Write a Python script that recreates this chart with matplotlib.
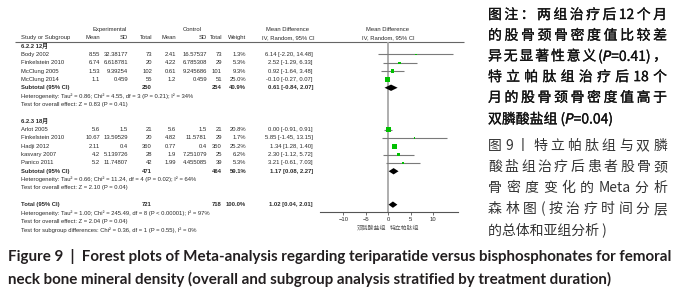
import matplotlib
matplotlib.use('Agg')
import matplotlib.pyplot as plt
import matplotlib.patheffects as pe
import numpy as np

# ---- data ----
studies_12 = ['Body 2002', 'Finkelstein 2010', 'McClung 2005', 'McClung 2014']
exp_mean_12 = [8.55, 6.74, 1.53, 1.1]
exp_sd_12 = [32.38177, 6.618781, 9.39254, 0.459]
exp_n_12 = [73, 20, 102, 55]
ctl_mean_12 = [2.41, 4.22, 0.61, 1.2]
ctl_sd_12 = [16.57537, 6.785308, 9.245686, 0.459]
ctl_n_12 = [73, 29, 101, 51]
weight_12 = [1.3, 5.3, 9.3, 25.0]
md_12 = [6.14, 2.52, 0.92, -0.10]
lo_12 = [-2.20, -1.29, -1.64, -0.27]
hi_12 = [14.48, 6.33, 3.48, 0.07]

studies_18 = ['Arlot 2005', 'Finkelstein 2010', 'Hadji 2012', 'kasvary 2007', 'Panico 2011']
exp_mean_18 = [5.6, 10.67, 2.11, 4.2, 5.2]
exp_sd_18 = [1.5, 13.59529, 0.4, 5.139726, 11.74807]
exp_n_18 = [21, 20, 360, 28, 42]
ctl_mean_18 = [5.6, 4.82, 0.77, 1.9, 1.99]
ctl_sd_18 = [1.5, 11.5781, 0.4, 7.251079, 4.455085]
ctl_n_18 = [21, 29, 350, 25, 39]
weight_18 = [20.8, 1.7, 25.2, 6.2, 5.3]
md_18 = [0.00, 5.85, 1.34, 2.30, 3.21]
lo_18 = [-0.91, -1.45, 1.28, -1.12, -0.61]
hi_18 = [0.91, 13.15, 1.40, 5.72, 7.03]

group_names = ['6.2.2 12月', '6.2.3 18月']
sub_md = [0.61, 1.17]
sub_lo = [-0.84, 0.08]
sub_hi = [2.07, 2.27]
sub_weight = [40.9, 59.1]
sub_exp_n = [250, 471]
sub_ctl_n = [254, 464]
sub_het = ['Heterogeneity: Tau² = 0.86; Chi² = 4.55, df = 3 (P = 0.21); I² = 34%',
           'Heterogeneity: Tau² = 0.66; Chi² = 11.24, df = 4 (P = 0.02); I² = 64%']
sub_test = ['Test for overall effect: Z = 0.83 (P = 0.41)',
            'Test for overall effect: Z = 2.10 (P = 0.04)']

total_md, total_lo, total_hi = 1.02, 0.04, 2.01
total_exp_n, total_ctl_n = 721, 718
total_notes = ['Heterogeneity: Tau² = 1.00; Chi² = 245.49, df = 8 (P < 0.00001); I² = 97%',
               'Test for overall effect: Z = 2.04 (P = 0.04)',
               'Test for subgroup differences: Chi² = 0.36, df = 1 (P = 0.55), I² = 0%']

xticks = [-10, -5, 0, 5, 10]
favours = ['双膦酸盐组', '特立帕肽组']

note_lines = ['图注：两组治疗后 12 个月', '的股骨颈骨密度值比较差', '异无显著性意义(P=0.41)，',
              '特立帕肽组治疗后 18 个', '月的股骨颈骨密度值高于', '双膦酸盐组 (P=0.04)']
title_lines = ['图 9 丨 特立帕肽组与双膦', '酸盐组治疗后患者股骨颈', '骨密度变化的 Meta 分析',
               '森林图 ( 按治疗时间分层', '的总体和亚组分析 )']
caption = ['Figure 9  |  Forest plots of Meta-analysis regarding teriparatide versus bisphosphonates for femoral',
           'neck bone mineral density (overall and subgroup analysis stratified by treatment duration)']

# ---- layout ----
W, H = 680, 300
row0, row_h = 46, 8.35          # pixel y of row 0 and row spacing
def row_lim(p):
    return (p - row0) / row_h

fig = plt.figure(figsize=(6.8, 3.0), dpi=100)
pix = fig.add_axes([0, 0, 1, 1])
pix.set_xlim(0, W); pix.set_ylim(H, 0); pix.axis('off')
tab = fig.add_axes([0, 0, 1, 1])
tab.set_xlim(0, W); tab.set_ylim(row_lim(H), row_lim(0)); tab.axis('off')
tab.patch.set_alpha(0)

fs = 4.2
tc = '#2a2a2a'
lat = ['Liberation Sans', 'Noto Sans CJK SC']
cols = {'exp_mean': 100, 'exp_sd': 128, 'exp_n': 152, 'ctl_mean': 176,
        'ctl_sd': 207, 'ctl_n': 222, 'w': 246, 'ci': 313}

def cell(x, r, s, ha='right', bold=False):
    tab.text(x, r, s, ha=ha, va='center', fontsize=fs, color=tc, family=lat,
             fontweight='bold' if bold else 'normal')

# headers
cell(110, -2, 'Experimental', ha='center')
cell(192, -2, 'Control', ha='center')
cell(288, -2, 'Mean Difference', ha='center')
cell(288, -1, 'IV, Random, 95% CI', ha='center')
cell(388, -2, 'Mean Difference', ha='center')
cell(388, -1, 'IV, Random, 95% CI', ha='center')
cell(21, -1, 'Study or Subgroup', ha='left')
for key, lab in [('exp_mean', 'Mean'), ('exp_sd', 'SD'), ('exp_n', 'Total'), ('ctl_mean', 'Mean'),
                 ('ctl_sd', 'SD'), ('ctl_n', 'Total'), ('w', 'Weight')]:
    cell(cols[key], -1, lab)
tab.hlines(-0.48, 15, 464, color='#666666', lw=0.8)

def ci_text(m, l, h):
    return f'{m:.2f} [{l:.2f}, {h:.2f}]'

groups = [
    (studies_12, exp_mean_12, exp_sd_12, exp_n_12, ctl_mean_12, ctl_sd_12, ctl_n_12, weight_12, md_12, lo_12, hi_12),
    (studies_18, exp_mean_18, exp_sd_18, exp_n_18, ctl_mean_18, ctl_sd_18, ctl_n_18, weight_18, md_18, lo_18, hi_18),
]

# forest axes, sharing row units with the table
ax = fig.add_axes([320 / W, 1 - 212 / H, 138 / W, 170 / H])
ax.set_xlim(-15.2, 15.5)
ax.set_ylim(row_lim(212), row_lim(42))
ax.patch.set_alpha(0)
for s in ['top', 'left', 'right']:
    ax.spines[s].set_visible(False)
ax.spines['bottom'].set_color('#555555')
ax.spines['bottom'].set_linewidth(0.8)
ax.set_yticks([])
ax.set_xticks(xticks)
ax.tick_params(axis='x', length=2, width=0.6, color='#555555', labelsize=fs, labelcolor=tc, pad=1.5)
for lab in ax.get_xticklabels():
    lab.set_family('Liberation Sans')
ax.axvline(0, color='#a8a8a8', lw=1.3, zorder=0)

def diamond(m, l, h, r):
    ax.fill([l, m, h, m], [r, r - 0.38, r, r + 0.38], color='black', lw=0, zorder=3)

start = 0
for g, (names, em, esd, en, cm, csd, cn, w, md, lo, hi) in enumerate(groups):
    cell(21, start, group_names[g], ha='left', bold=True)
    rows = np.arange(len(names)) + start + 1
    for i, r in enumerate(rows):
        cell(21, r, names[i], ha='left')
        cell(cols['exp_mean'], r, str(em[i]))
        cell(cols['exp_sd'], r, str(esd[i]))
        cell(cols['exp_n'], r, str(en[i]))
        cell(cols['ctl_mean'], r, str(cm[i]))
        cell(cols['ctl_sd'], r, str(csd[i]))
        cell(cols['ctl_n'], r, str(cn[i]))
        cell(cols['w'], r, f'{w[i]:.1f}%')
        cell(cols['ci'], r, ci_text(md[i], lo[i], hi[i]))
    ax.hlines(rows, lo, hi, color='#7a7a7a', lw=0.8, zorder=1)
    ax.scatter(md, rows, s=np.array(w) * 0.55, marker='s', color='#00c000', lw=0, zorder=2)
    sr = rows[-1] + 1
    cell(21, sr, 'Subtotal (95% CI)', ha='left', bold=True)
    cell(cols['exp_n'], sr, str(sub_exp_n[g]), bold=True)
    cell(cols['ctl_n'], sr, str(sub_ctl_n[g]), bold=True)
    cell(cols['w'], sr, f'{sub_weight[g]:.1f}%', bold=True)
    cell(cols['ci'], sr, ci_text(sub_md[g], sub_lo[g], sub_hi[g]), bold=True)
    diamond(sub_md[g], sub_lo[g], sub_hi[g], sr)
    cell(21, sr + 1, sub_het[g], ha='left')
    cell(21, sr + 2, sub_test[g], ha='left')
    start = sr + 4

tr = start
cell(21, tr, 'Total (95% CI)', ha='left', bold=True)
cell(cols['exp_n'], tr, str(total_exp_n), bold=True)
cell(cols['ctl_n'], tr, str(total_ctl_n), bold=True)
cell(cols['w'], tr, '100.0%', bold=True)
cell(cols['ci'], tr, ci_text(total_md, total_lo, total_hi), bold=True)
diamond(total_md, total_lo, total_hi, tr)
for k, note in enumerate(total_notes):
    cell(21, tr + 1 + k, note, ha='left')

tab.text(386, row_lim(228), favours[0], ha='right', va='center', fontsize=fs, color='#555555', family=lat)
tab.text(390, row_lim(228), favours[1], ha='left', va='center', fontsize=fs, color='#555555', family=lat)

# ---- right-hand Chinese note, justified ----
renderer = fig.canvas.get_renderer()

def tokens_of(s):
    out, buf = [], ''
    for ch in s:
        if ch == ' ':
            if buf:
                out.append(buf); buf = ''
        elif ord(ch) > 0x2E7F:
            if buf:
                out.append(buf); buf = ''
            out.append(ch)
        else:
            buf += ch
    if buf:
        out.append(buf)
    return [t.replace('P=', r'$\it{P}$=') for t in out]

def put_line(s, x0, x1, y, justify, **kw):
    if not justify:
        pix.text(x0, y, s.replace('P=', r'$\it{P}$='), ha='left', va='center', **kw)
        return
    toks = tokens_of(s)
    txts = [pix.text(0, y, t, ha='left', va='center', **kw) for t in toks]
    widths = [t.get_window_extent(renderer).width for t in txts]
    gap = (x1 - x0 - sum(widths)) / (len(toks) - 1)
    x = x0
    for t, wd in zip(txts, widths):
        t.set_x(x)
        x += wd + gap

cjk = ['Noto Sans CJK SC', 'DejaVu Sans']
heavy = [pe.withStroke(linewidth=0.2, foreground='#111111')]
for k, line in enumerate(note_lines):
    put_line(line, 488, 667, 15 + 20.7 * k, k < len(note_lines) - 1,
             fontsize=10, family=cjk, color='#111111', path_effects=heavy)
for k, line in enumerate(title_lines):
    put_line(line, 488, 667, 146 + 21 * k, k < len(title_lines) - 1,
             fontsize=10, family=cjk, color='#333333')

# ---- bottom caption ----
c1 = pix.text(8, 257, caption[0], ha='left', va='center', fontsize=10, family='Lato',
              fontweight='bold', color='#231f20')
scale = 667 / c1.get_window_extent(renderer).width
c1.set_fontsize(10 * scale)
pix.text(8, 279, caption[1], ha='left', va='center', fontsize=10 * scale, family='Lato',
         fontweight='bold', color='#231f20')

fig.savefig('out.png', dpi=100)
